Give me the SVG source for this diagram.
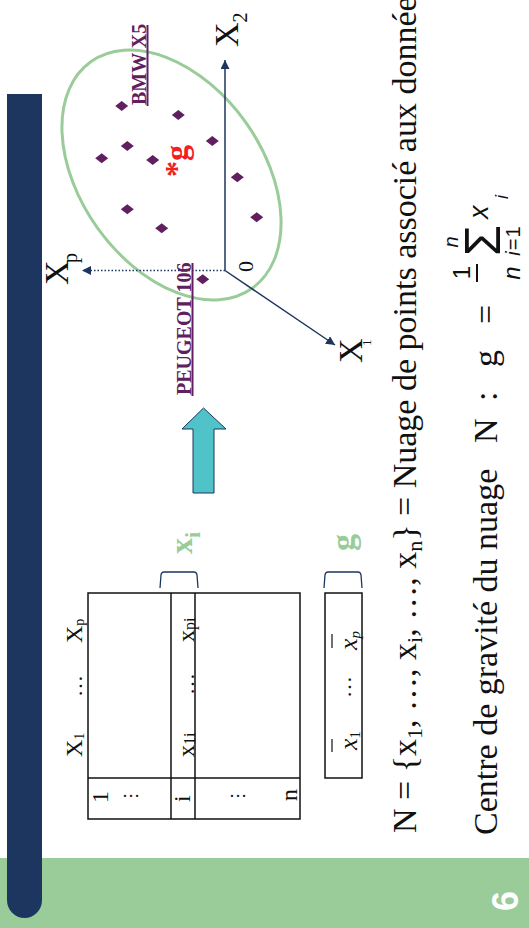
<svg xmlns="http://www.w3.org/2000/svg" width="529" height="928" viewBox="0 0 529 928">
<style>
.serif{font-family:"Liberation Serif","Times New Roman",serif;fill:#111}
.sans{font-family:"Liberation Sans",Arial,sans-serif;fill:#111}
.it{font-style:italic}
.lbl{font-family:"Liberation Serif","Times New Roman",serif;font-weight:bold;font-size:20px;fill:#602060}
.grn{font-family:"Liberation Serif","Times New Roman",serif;font-weight:bold;fill:#99CC99}
.axis{stroke:#1d365f;stroke-width:1.5;fill:none}
.grid{stroke:#111;stroke-width:1.5;fill:none}
.brk{stroke:#1d365f;stroke-width:1.3;fill:none}
.pt{fill:#602060}
.ul{stroke:#602060;stroke-width:2}
</style>
<defs>
<marker id="ah" viewBox="0 0 10 10" refX="10" refY="5" markerWidth="9" markerHeight="9" markerUnits="userSpaceOnUse" orient="auto"><path d="M0,0 L10,5 L0,10 z" fill="#1d365f"/></marker>
<path id="dm" d="M-6.5,0 L0,-5 L6.5,0 L0,5 z"/>
</defs>
<rect width="529" height="928" fill="#fff"/>
<g id="band"><rect x="0" y="858" width="529" height="70" fill="#99CC99"/></g>
<g id="bar"><path d="M7,94 H42 V900 A17.5,18 0 0 1 7,900 Z" fill="#1d365f"/></g>
<g id="pagenum"><text transform="rotate(-90)" x="-901" y="518" text-anchor="middle" font-family="Liberation Sans,Arial,sans-serif" font-weight="bold" font-size="36" fill="#fff">6</text></g>

<g id="cloud">
<ellipse cx="171.5" cy="175" rx="139" ry="91" transform="rotate(54.5 171.5 175)" fill="none" stroke="#99CC99" stroke-width="3"/>
<g class="pt">
<use href="#dm" x="121.7" y="106"/>
<use href="#dm" x="178.3" y="115"/>
<use href="#dm" x="212.3" y="141"/>
<use href="#dm" x="127.3" y="146"/>
<use href="#dm" x="101.7" y="158.3"/>
<use href="#dm" x="152.7" y="160"/>
<use href="#dm" x="237.3" y="177.3"/>
<use href="#dm" x="256.7" y="217.3"/>
<use href="#dm" x="127.3" y="209.3"/>
<use href="#dm" x="161.7" y="228.3"/>
<use href="#dm" x="202.7" y="279.3"/>
</g>
<text transform="rotate(-90)" x="-177" y="187" font-family="Liberation Serif,serif" font-weight="bold" font-size="32" fill="#F22020">*g</text>
</g>

<g id="connectors">
<line class="axis" x1="225" y1="270.5" x2="225" y2="60" marker-end="url(#ah)"/>
<line class="axis" x1="225" y1="270.5" x2="335" y2="345" marker-end="url(#ah)"/>
<line class="axis" x1="225" y1="270.5" x2="82" y2="270.5" stroke-dasharray="1.5 2" marker-end="url(#ah)"/>
</g>

<g id="axis-labels" transform="rotate(-90)" class="serif">
<text x="-47" y="238" font-size="34">X</text>
<text x="-22.5" y="247" font-size="20">2</text>
<text x="-363" y="362" font-size="34">X</text>
<text x="-346" y="371" font-size="13">1</text>
<text x="-285" y="68" font-size="34">X</text>
<text x="-263" y="77" font-size="20">p</text>
<text x="-272" y="253" font-size="22">0</text>
</g>

<g id="bmw">
<text class="lbl" transform="rotate(-90)" x="-105" y="145.5">BMW X5</text>
<line class="ul" x1="147.5" y1="25" x2="147.5" y2="106"/>
</g>
<g id="peugeot">
<text class="lbl" transform="rotate(-90)" x="-395" y="190.5">PEUGEOT 106</text>
<line class="ul" x1="192.5" y1="263" x2="192.5" y2="396"/>
</g>

<g id="bigarrow">
<polygon points="203.5,408 226,429 214,429 214,493 193,493 193,429 182,429" fill="#4FC3C7" stroke="#1d365f" stroke-width="1"/>
</g>

<g id="table">
<rect class="grid" x="88" y="593" width="212" height="226"/>
<line class="grid" x1="171" y1="593" x2="171" y2="819"/>
<line class="grid" x1="195" y1="593" x2="195" y2="819"/>
<line class="grid" x1="88" y1="778" x2="300" y2="778"/>
<g transform="rotate(-90)" class="serif">
<text x="-757" y="82" font-size="24">X<tspan font-size="14" dy="2">1</tspan></text>
<text x="-697" y="82" font-size="22">…</text>
<text x="-643" y="82" font-size="24">X<tspan font-size="14" dy="2">p</tspan></text>
<text x="-803" y="108" font-size="24">1</text>
<text x="-802" y="190" font-size="24">i</text>
<text x="-801" y="297" font-size="24">n</text>
<text x="-757" y="194" font-size="24">x<tspan font-size="16" dy="1">1i</tspan></text>
<text x="-695" y="194" font-size="22">…</text>
<text x="-642" y="194" font-size="24">x<tspan font-size="16" dy="1">pi</tspan></text>
</g>
<text class="serif" x="122" y="797" font-size="18">…</text>
<text class="serif" x="229" y="797" font-size="18">…</text>
</g>

<g id="xi-bracket">
<path class="brk" d="M160,588 L161,575 Q161.5,572 164,572 L194,572 Q196.5,572 197,575 L198,588"/>
<text class="grn" transform="rotate(-90)" x="-554" y="192" font-size="32">x<tspan font-size="22" dy="8">i</tspan></text>
</g>

<g id="g-vector">
<rect class="grid" x="325" y="593" width="37" height="185"/>
<path class="brk" d="M324,588 L325,575 Q325.5,572 328,572 L358,572 Q360.5,572 361,575 L362,588"/>
<line x1="332" y1="739" x2="332" y2="752" stroke="#111" stroke-width="1.2"/>
<line x1="332" y1="634" x2="332" y2="648" stroke="#111" stroke-width="1.2"/>
<g transform="rotate(-90)" class="serif">
<text x="-750" y="357" font-size="26" class="serif it">x<tspan font-size="15" font-style="normal" dy="3">1</tspan></text>
<text x="-698" y="351" font-size="22">…</text>
<text x="-650" y="357" font-size="26" class="serif it">x<tspan font-size="15" dy="3">p</tspan></text>
</g>
<text class="grn" transform="rotate(-90)" x="-551" y="354" font-size="34">g</text>
</g>

<g id="line1">
<text class="serif" transform="rotate(-90)" x="-833" y="416" font-size="34">N = {x<tspan font-size="22" dy="6">1</tspan><tspan dy="-6">, …, x</tspan><tspan font-size="22" dy="6">i</tspan><tspan dy="-6">, …, x</tspan><tspan font-size="22" dy="6">n</tspan><tspan dy="-6">} = Nuage de points associé aux données</tspan></text>
</g>

<g id="line2">
<g transform="rotate(-90)">
<text class="serif" x="-835" y="497" font-size="34">Centre de gravité du nuage</text>
<text class="serif" x="-443" y="497" font-size="34">N</text>
<text class="serif" x="-401" y="497" font-size="34">:</text>
<text class="serif" x="-367" y="497" font-size="34">g</text>
<text class="serif" x="-324" y="497" font-size="34">=</text>
<text class="sans" x="-272.5" y="470" font-size="24" text-anchor="middle">1</text>
<text class="sans it" x="-273" y="520" font-size="24" text-anchor="middle">n</text>
<text class="sans" x="-240.5" y="500" font-size="50" text-anchor="middle">Σ</text>
<text class="sans it" x="-242" y="458" font-size="20" text-anchor="middle">n</text>
<text class="sans" x="-240.5" y="520" font-size="20" text-anchor="middle" letter-spacing="1"><tspan font-style="italic">i</tspan>=1</text>
<text class="sans it" x="-219" y="488" font-size="27">x</text>
<text class="sans it" x="-199" y="508" font-size="18">i</text>
</g>
<line x1="477" y1="264" x2="477" y2="282" stroke="#111" stroke-width="2"/>
</g>
</svg>
